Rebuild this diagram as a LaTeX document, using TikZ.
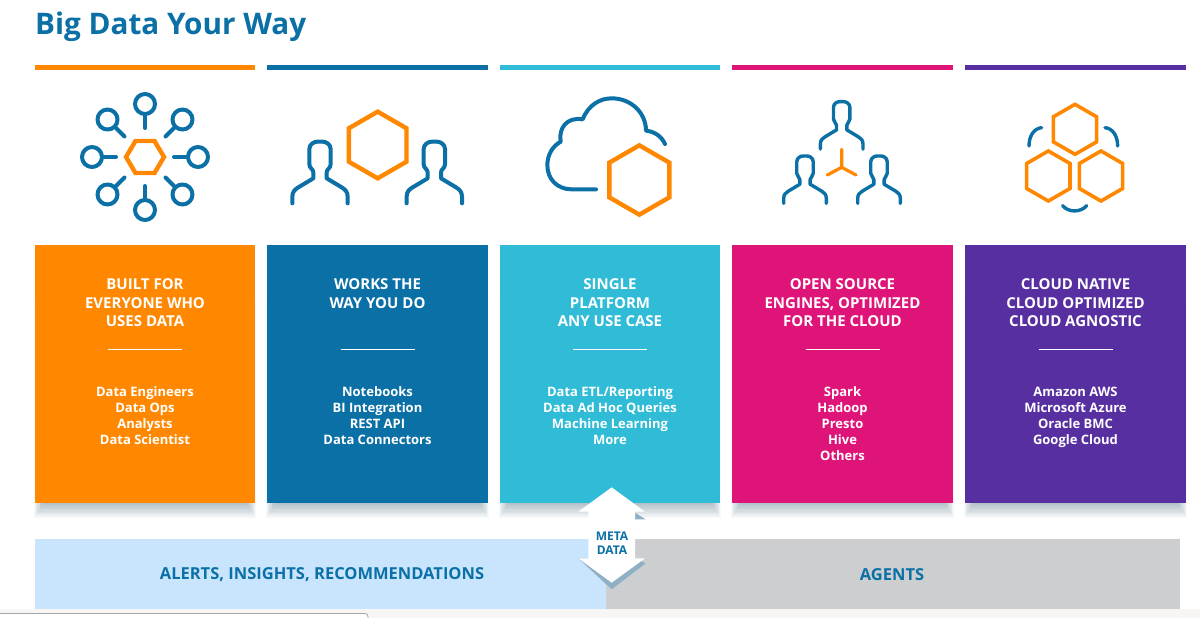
\documentclass[tikz,border=0pt]{standalone}
\usepackage{fontspec}
\setmainfont{Open Sans}
\definecolor{cOrange}{HTML}{FF8800}
\definecolor{cBlue}{HTML}{0A70A6}
\definecolor{cTeal}{HTML}{30BBD6}
\definecolor{cPink}{HTML}{DE1479}
\definecolor{cPurple}{HTML}{572FA0}
\definecolor{cLight}{HTML}{C9E5FD}
\definecolor{cGrey}{HTML}{CCCED0}
\definecolor{cFoot}{HTML}{F7F6F4}
\definecolor{cShade}{HTML}{8FB0C4}
\definecolor{cShadow}{HTML}{1F4A66}
\tikzset{
  blueline/.style={draw=cBlue,line width=4pt,line cap=round,line join=round,fill=none},
  orangeline/.style={draw=cOrange,line width=4.4pt,line join=miter,line cap=round,fill=none},
  cardhead/.style={text=white,font=\bfseries\fontsize{15}{18.5}\selectfont,align=center,anchor=north,inner sep=0pt},
  cardlist/.style={text=white,font=\bfseries\fontsize{13}{16}\selectfont,align=center,anchor=north,inner sep=0pt},
  bandlabel/.style={text=cBlue,font=\bfseries\fontsize{16.5}{18}\selectfont,inner sep=0pt},
}
\newcommand{\vhexat}[4][]{\begin{scope}[shift={(#2,#3)}]
  \draw[orangeline,#1] (90:#4)--(150:#4)--(210:#4)--(270:#4)--(330:#4)--(30:#4)--cycle;\end{scope}}
\newcommand{\personat}[4][]{\begin{scope}[shift={(#2,#3)},scale=#4]
  \draw[blueline,#1] (-83,185)--(-83,165) .. controls (-83,150) and (-75,143) .. (-65,137)
     --(-20,110)--(-20,92) .. controls (-20,82) and (-32,80) .. (-32,68)--(-32,22)
     .. controls (-32,8) and (-18,0) .. (-8,0)--(8,0) .. controls (18,0) and (32,8) .. (32,22)--(32,68)
     .. controls (32,80) and (20,82) .. (20,92)--(20,110)--(65,137)
     .. controls (75,143) and (83,150) .. (83,165)--(83,185);\end{scope}}
\begin{document}
\begin{tikzpicture}[x=1pt,y=-1pt]
\useasboundingbox (0,0) rectangle (1200,618);
\fill[white] (0,0) rectangle (1200,618);
\fill[cFoot] (0,609) rectangle (1200,618);
\draw[gray!70,line width=0.8pt,fill=white,rounded corners=3pt] (-6,613.5) rectangle (368,630);

\node[anchor=west,inner sep=0pt,text=cBlue,font=\bfseries\fontsize{29.7}{34}\selectfont] (title) at (35,26.5) {Big Data Your Way};

% cards
\foreach \xa/\xb/\col/\nm/\hd/\ls in {
  35/255/cOrange/a/{BUILT FOR\\EVERYONE WHO\\USES DATA}/{Data Engineers\\Data Ops\\Analysts\\Data Scientist},
  267/488/cBlue/b/{WORKS THE\\WAY YOU DO}/{Notebooks\\BI Integration\\REST API\\Data Connectors},
  500/720/cTeal/c/{SINGLE\\PLATFORM\\ANY USE CASE}/{Data ETL/Reporting\\Data Ad Hoc Queries\\Machine Learning\\More},
  732/953/cPink/d/{OPEN SOURCE\\ENGINES, OPTIMIZED\\FOR THE CLOUD}/{Spark\\Hadoop\\Presto\\Hive\\Others},
  965/1186/cPurple/e/{CLOUD NATIVE\\CLOUD OPTIMIZED\\CLOUD AGNOSTIC}/{Amazon AWS\\Microsoft Azure\\Oracle BMC\\Google Cloud}}{
  \fill[\col] (\xa,64.7) rectangle (\xb,70);
  \foreach \s in {0,1,...,11}
    \fill[cShadow,opacity=0.032] ({\xa+\s*0.8-1},{300}) rectangle ({\xb-\s*0.8+1},{518-\s*1.3});
  \fill[\col] (\xa,245) rectangle (\xb,503);
  \pgfmathsetmacro{\cx}{(\xa+\xb)/2}
  \node[cardhead] (head\nm) at (\cx,278.5) {\hd};
  \coordinate (ruleL\nm) at (\cx-37,349.5);
  \coordinate (ruleR\nm) at (\cx+37,349.5);
  \draw[white,line width=1pt] (ruleL\nm)--(ruleR\nm);
  \node[cardlist] (list\nm) at (\cx,384.3) {\rule{0pt}{12pt}\ls};
}

% bottom bands
\fill[cLight] (35,539) rectangle (606,608.5);
\fill[cGrey] (606,539) rectangle (1180,608.5);
\node[bandlabel] (alerts) at (322,575) {ALERTS, INSIGHTS, RECOMMENDATIONS};
\node[bandlabel] (agents) at (892,575) {AGENTS};

% meta data arrow
\begin{scope}[shift={(500,470)},scale=1/3]
  \fill[cShade] (405,128)--(437,148)--(405,148)--cycle;
  \fill[cShade] (235,265)--(335,358)--(437,280)--(405,265)--cycle;
  \fill[white] (335,52)--(435,125)--(405,125)--(405,265)--(435,265)--(335,338)--(235,265)--(265,265)--(265,125)--(235,125)--cycle;
\end{scope}
\node[text=cBlue,font=\bfseries\fontsize{12}{14}\selectfont,align=center,inner sep=0pt] (meta) at (612,543.5) {META\\DATA};

% icon 1
\draw[orangeline] (126,157)--(135.5,141)--(154.5,141)--(164,157)--(154.5,173)--(135.5,173)--cycle;
\begin{scope}[shift={(145,157)}]
\foreach \a in {0,45,...,315}{
  \draw[blueline] (\a:29)--(\a:43);
  \draw[blueline] (\a:53) circle (10);
}
\end{scope}

% icon 2
\begin{scope}[shift={(270,60)},scale=1/3]
  \personat{150}{245}{1}
  \personat{493}{245}{1}
  \vhexat{323}{255}{100}
\end{scope}

% icon 3
\begin{scope}[shift={(270,60)},scale=1/3]
  \draw[blueline] (978,388)--(905,388) .. controls (862,388) and (832,358) .. (832,315)
    .. controls (832,285) and (848,258) .. (872,245)
    .. controls (865,205) and (890,170) .. (938,178)
    .. controls (955,135) and (990,115) .. (1025,115)
    .. controls (1085,115) and (1128,160) .. (1128,212)
    .. controls (1155,215) and (1175,230) .. (1185,252);
  \vhexat{1108}{360}{104}
\end{scope}

% icon 4
\begin{scope}[shift={(730,60)},scale=1/3]
  \personat[line width=3.4pt]{335}{125}{0.77}
  \personat[line width=3.4pt]{225}{288}{0.77}
  \personat[line width=3.4pt]{447}{288}{0.77}
  \coordinate (yc) at (335,322);
  \coordinate (yt) at (335,268);
  \coordinate (yl) at (292,345);
  \coordinate (yr) at (378,345);
  \draw[orangeline,line width=3.2pt] (yt)--(yc)--(yl) (yc)--(yr);
\end{scope}

% icon 5
\begin{scope}[shift={(730,60)},scale=1/3]
  \vhexat[line width=3.6pt]{1035}{208}{75}
  \vhexat[line width=3.6pt]{955}{348}{75}
  \vhexat[line width=3.6pt]{1113}{348}{75}
  \draw[blueline,line width=3.4pt] (935,203) .. controls (912,205) and (897,228) .. (897,258);
  \draw[blueline,line width=3.4pt] (1125,203) .. controls (1148,205) and (1163,228) .. (1163,258);
  \draw[blueline,line width=3.4pt] (998,437) .. controls (1015,458) and (1052,458) .. (1070,437);
\end{scope}
\end{tikzpicture}
\end{document}
